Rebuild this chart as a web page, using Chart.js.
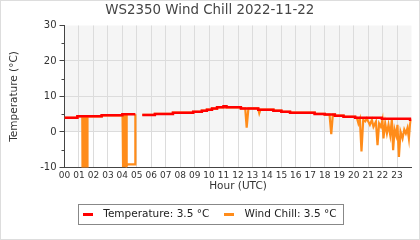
<!DOCTYPE html>
<html lang="en">
<head>
<meta charset="UTF-8">
<title>WS2350 Wind Chill 2022-11-22</title>
<script src="https://cdn.jsdelivr.net/npm/chart.js"></script>
<style>
  body { margin: 0; background: #fff; }
  #wrap { width: 420px; height: 240px; }
</style>
</head>
<body>
<div id="wrap"><canvas id="chillCanvas" width="420" height="240"></canvas></div>
<script>
// hour ticks on the x axis
const hourLabels = ['00','01','02','03','04','05','06','07','08','09','10','11',
                    '12','13','14','15','16','17','18','19','20','21','22','23'];

// temperature, stepped (value holds until the next hour mark)
const tempHours  = [0, 0.89, 2.57, 4.0, 4.9, 4.92, 5.38, 6.25, 7.5, 8.9, 9.5, 9.85, 10.2, 10.55,
                    11.0, 11.2, 12.2, 13.4, 14.45, 15.0, 15.6, 17.3, 18.0, 18.7, 19.3, 20.1, 21.95, 23.9, 24];
const tempValues = [4.0, 4.4, 4.7, 5.0, 5.0, null, 4.8, 5.1, 5.45, 5.7, 6.0, 6.3, 6.6, 6.95,
                    7.25, 6.95, 6.65, 6.3, 6.0, 5.7, 5.45, 5.1, 4.9, 4.6, 4.3, 4.0, 3.7, 3.45, 3.45];

// wind chill
const chillHours = [0, 0.89, 0.89, 1.23, 1.25, 1.35, 1.37, 1.47, 1.49, 1.57, 1.59, 2.57, 2.57,
                    4.0, 4.0, 4.03, 4.05, 4.13, 4.15, 4.28, 4.3, 4.36, 4.88, 4.9, 4.92,
                    5.38, 6.25, 6.25, 7.5, 7.5, 8.9, 8.9, 9.5, 9.5, 9.85, 9.85, 10.2, 10.2, 10.55, 10.55,
                    11.0, 11.0, 11.2, 11.2, 12.2, 12.2, 12.5, 12.6, 12.72, 13.4, 13.4, 13.42, 13.47, 13.55,
                    14.45, 14.45, 15.0, 15.0, 15.6, 15.6, 17.3, 17.3, 18.0, 18.0, 18.33, 18.45, 18.56,
                    18.7, 18.7, 19.3, 19.3, 20.1, 20.1, 20.22, 20.33, 20.43, 20.54, 20.66, 20.8, 20.91,
                    20.98, 21.12, 21.26, 21.37, 21.54, 21.65, 21.76, 21.88, 21.99, 22.06, 22.18, 22.3,
                    22.41, 22.53, 22.64, 22.73, 22.83, 22.94, 23.03, 23.13, 23.24, 23.38, 23.5, 23.61,
                    23.72, 23.82, 23.89, 23.96, 24];
const chillValues = [4.0, 4.0, 4.4, 4.4, -14, -14, 4.4, 4.4, -14, -14, 4.4, 4.4, 4.7,
                     4.7, 5.0, 5.0, -9.6, -9.6, 5.0, 5.0, -9.6, -9.1, -9.1, 5.0, null,
                     4.8, 4.8, 5.1, 5.1, 5.45, 5.45, 5.7, 5.7, 6.0, 6.0, 6.3, 6.3, 6.6, 6.6, 6.95,
                     6.95, 7.25, 7.25, 6.95, 6.95, 6.65, 6.65, 1.2, 6.65, 6.65, 6.3, 6.3, 5.3, 6.3,
                     6.3, 6.0, 6.0, 5.7, 5.7, 5.45, 5.45, 5.1, 5.1, 4.9, 4.9, -0.6, 4.9,
                     4.9, 4.6, 4.6, 4.3, 4.3, 4.0, 4.0, 2.4, 3.6, -5.5, 3.4, 3.0, 3.8,
                     3.2, 2.0, 3.4, 1.5, 2.9, -3.7, 2.4, 1.5, 3.4, -1.8, 2.4, -0.4,
                     2.0, -0.9, 3.4, -5.1, 0.7, -1.0, 2.0, -7.0, 0.1, -1.8, 0.7, -0.4,
                     1.1, -1.8, 2.0, 3.4, 3.45];

function toPoints(xs, ys) {
    return xs.map((x, i) => ({ x: x, y: ys[i] }));
}

Chart.defaults.font.family = 'DejaVu Sans';

// grey shading above freezing, minor ticks, legend markers and frame, outer frame
const decorations = {
    id: 'decorations',
    beforeDraw(chart) {
        const ctx = chart.ctx;
        const area = chart.chartArea;
        const zeroY = chart.scales.y.getPixelForValue(0);
        ctx.save();
        ctx.fillStyle = '#ffffff';
        ctx.fillRect(0, 0, chart.width, chart.height);
        ctx.fillStyle = '#f5f5f5';
        ctx.fillRect(area.left, area.top, area.right - area.left, zeroY - area.top);
        ctx.restore();
    },
    afterDraw(chart) {
        const ctx = chart.ctx;
        const yScale = chart.scales.y;
        ctx.save();
        ctx.strokeStyle = '#444';
        ctx.lineWidth = 1;
        [-5, 5, 15, 25].forEach(v => {
            const py = Math.round(yScale.getPixelForValue(v)) + 0.5;
            ctx.beginPath();
            ctx.moveTo(chart.chartArea.left - 3, py);
            ctx.lineTo(chart.chartArea.left, py);
            ctx.stroke();
        });
        const hits = chart.legend.legendHitBoxes;
        if (hits && hits.length) {
            hits.forEach((hit, i) => {
                ctx.fillStyle = chart.data.datasets[i].borderColor;
                ctx.fillRect(Math.round(hit.left), Math.round(hit.top + hit.height / 2 - 1.5), 10, 3);
            });
            const first = hits[0];
            const last = hits[hits.length - 1];
            const x0 = Math.round(first.left - 5) + 0.5;
            const x1 = Math.round(last.left + last.width + 7) + 0.5;
            const y0 = Math.round(first.top + first.height / 2 - 10) + 0.5;
            const y1 = Math.round(first.top + first.height / 2 + 10) + 0.5;
            ctx.strokeStyle = '#888';
            ctx.strokeRect(x0, y0, x1 - x0, y1 - y0);
        }
        ctx.strokeStyle = '#dddddd';
        ctx.strokeRect(0.5, 0.5, chart.width - 1, chart.height - 1);
        ctx.restore();
    }
};

new Chart(document.getElementById('chillCanvas'), {
    type: 'line',
    data: {
        datasets: [{
            label: 'Temperature: 3.5 °C',
            data: toPoints(tempHours, tempValues),
            borderColor: '#ff0000',
            backgroundColor: '#ff0000',
            borderWidth: 2.5,
            stepped: true,
            pointRadius: 0,
            clip: 0
        }, {
            label: 'Wind Chill: 3.5 °C',
            data: toPoints(chillHours, chillValues),
            borderColor: '#ff8c1a',
            backgroundColor: '#ff8c1a',
            borderWidth: 2.2,
            pointRadius: 0,
            tension: 0,
            clip: 0
        }]
    },
    options: {
        responsive: false,
        animation: false,
        layout: { padding: { left: 8, right: 8.5, top: 0, bottom: 10.75 } },
        scales: {
            x: {
                type: 'linear',
                min: 0,
                max: 24,
                afterFit(scale) { scale.height = 26.25; },
                ticks: {
                    stepSize: 1,
                    autoSkip: false,
                    maxRotation: 0,
                    padding: 3,
                    color: '#333',
                    font: { size: 9 },
                    callback: v => hourLabels[v] !== undefined ? hourLabels[v] : ''
                },
                grid: {
                    color: c => (c.tick && c.tick.value > 0 && c.tick.value < 24) ? '#dcdcdc' : 'rgba(0,0,0,0)',
                    drawTicks: false
                },
                border: { color: '#444', width: 1 },
                title: {
                    display: true,
                    text: 'Hour (UTC)',
                    color: '#333',
                    font: { size: 10.5 },
                    padding: { top: 0, bottom: 0.7 }
                }
            },
            y: {
                min: -10,
                max: 30,
                afterFit(scale) { scale.width = 56.5; },
                ticks: {
                    stepSize: 5,
                    padding: 3,
                    color: '#333',
                    font: { size: 10 },
                    callback: v => v % 10 === 0 ? v : ''
                },
                grid: {
                    color: c => (c.tick && c.tick.value % 10 === 0 && c.tick.value < 30) ? '#dcdcdc' : 'rgba(0,0,0,0)',
                    tickColor: c => (c.tick && c.tick.value % 10 === 0) ? '#444' : 'rgba(0,0,0,0)',
                    tickLength: 5
                },
                border: { color: '#444', width: 1 },
                title: {
                    display: true,
                    text: 'Temperature (°C)',
                    color: '#333',
                    font: { size: 10.5 },
                    padding: { top: 0, bottom: 0 }
                }
            }
        },
        plugins: {
            title: {
                display: true,
                text: 'WS2350 Wind Chill 2022-11-22',
                color: '#444',
                font: { size: 13.4, weight: 'normal' },
                padding: { top: 2.8, bottom: 6.6 }
            },
            legend: {
                position: 'bottom',
                labels: {
                    boxWidth: 15,
                    boxHeight: 3,
                    padding: 15,
                    color: '#222',
                    font: { size: 10.5 },
                    generateLabels(chart) {
                        return Chart.defaults.plugins.legend.labels.generateLabels(chart)
                            .map(item => Object.assign(item, { lineWidth: 0, fillStyle: 'rgba(0,0,0,0)' }));
                    }
                }
            },
            tooltip: { enabled: false }
        }
    },
    plugins: [decorations]
});
</script>
</body>
</html>
